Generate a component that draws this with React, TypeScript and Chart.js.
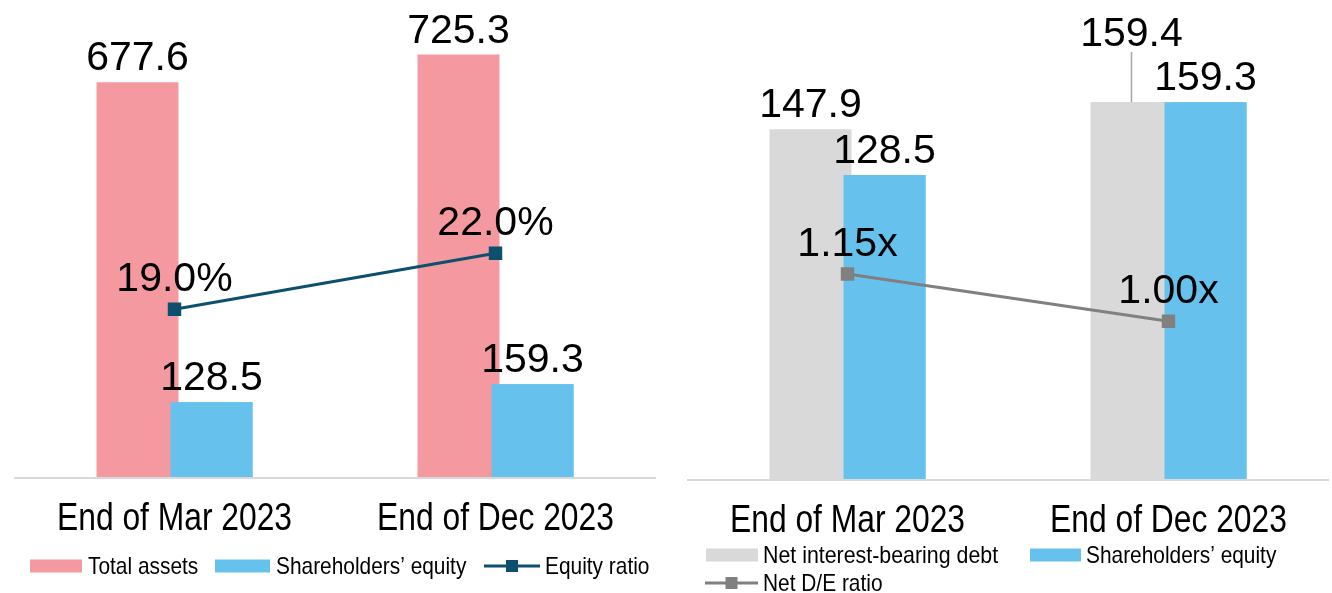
import React, { useEffect, useRef } from "react";
import { Chart, registerables } from "chart.js";
Chart.register(...registerables);

const categories = ["End of Mar 2023", "End of Dec 2023"];
const totalAssets = [677.6, 725.3];
const equityLeft = [128.5, 159.3];
const equityRatio = [19.0, 22.0];
const netDebt = [147.9, 159.4];
const equityRight = [128.5, 159.3];
const netDE = [1.15, 1.0];
const leftSeries = ["Total assets", "Shareholders’ equity", "Equity ratio"];
const rightSeries = ["Net interest-bearing debt", "Shareholders’ equity", "Net D/E ratio"];

const PINK = "#F4999F";
const BLUE = "#66C1EC";
const GRAY = "#D9D9D9";
const NAVY = "#0C4F6E";
const LGRAY = "#808080";
const SANS = '"Liberation Sans", Arial, sans-serif';

function narrowText(ctx: any, txt: string, x: number, y: number, sx: number) {
  ctx.save();
  ctx.translate(x, y);
  ctx.scale(sx, 1);
  ctx.fillText(txt, 0, 0);
  ctx.restore();
}

const panelPlugin = {
  id: "panel",
  afterDatasetDraw(chart: any, args: any) {
    if (args.index === 0) {
      const meta = chart.getDatasetMeta(1);
      meta.data.forEach((el: any) => el.draw(chart.ctx));
    }
  },
  afterDraw(chart: any, _args: any, opts: any) {
    const ctx = chart.ctx;
    const ca = chart.chartArea;
    const xs = chart.scales.x;
    ctx.save();
    // axis line
    ctx.strokeStyle = GRAY;
    ctx.lineWidth = 2;
    ctx.beginPath();
    ctx.moveTo(ca.left, ca.bottom + 1);
    ctx.lineTo(ca.right, ca.bottom + 1);
    ctx.stroke();
    // category labels
    ctx.fillStyle = "#000";
    ctx.textAlign = "center";
    ctx.textBaseline = "alphabetic";
    ctx.font = `39px ${SANS}`;
    chart.data.labels.forEach((l: string, i: number) => {
      narrowText(ctx, l, xs.getPixelForValue(i), ca.bottom + 53, 0.815);
    });
    // data labels
    ctx.font = `41px ${SANS}`;
    [0, 1].forEach((di) => {
      const meta = chart.getDatasetMeta(di);
      const ds = chart.data.datasets[di];
      meta.data.forEach((el: any, i: number) => {
        const txt = ds.data[i].toFixed(1);
        let y = el.y - 12;
        if (opts.leader && opts.leader[0] === di && opts.leader[1] === i) {
          y = el.y - 56;
          ctx.strokeStyle = "#A6A6A6";
          ctx.lineWidth = 1.5;
          ctx.beginPath();
          ctx.moveTo(el.x, el.y);
          ctx.lineTo(el.x, y + 6);
          ctx.stroke();
        }
        ctx.fillText(txt, el.x, y);
      });
    });
    const lmeta = chart.getDatasetMeta(2);
    const lds = chart.data.datasets[2];
    lmeta.data.forEach((el: any, i: number) => {
      ctx.fillText(opts.lineFmt(lds.data[i]), el.x, el.y - 18);
    });
    // legend
    ctx.font = `24px ${SANS}`;
    ctx.textAlign = "left";
    ctx.textBaseline = "middle";
    opts.legend.forEach((it: any) => {
      if (it.type === "box") {
        ctx.fillStyle = it.color;
        ctx.fillRect(it.x, it.y - 6.5, it.w, 13);
      } else {
        ctx.strokeStyle = it.color;
        ctx.lineWidth = 3;
        ctx.beginPath();
        ctx.moveTo(it.x, it.y);
        ctx.lineTo(it.x + it.w, it.y);
        ctx.stroke();
        ctx.fillStyle = it.color;
        ctx.fillRect(it.x + it.w / 2 - 6, it.y - 6, 12, 12);
      }
      ctx.fillStyle = "#000";
      narrowText(ctx, it.text, it.tx, it.y + 1, it.sx || 0.87);
    });
    ctx.restore();
  },
};

function makeConfig(
  bars1: number[], bars2: number[], line: number[],
  c1: string, c2: string, lc: string,
  yMax: number, y2Min: number, y2Max: number,
  padding: any, pluginOpts: any
): any {
  return {
    type: "bar",
    data: {
      labels: categories,
      datasets: [
        { type: "bar", data: bars1, backgroundColor: c1, categoryPercentage: 0.461, barPercentage: 1.108, yAxisID: "y" },
        { type: "bar", data: bars2, backgroundColor: c2, categoryPercentage: 0.461, barPercentage: 1.108, yAxisID: "y" },
        {
          type: "line", data: line, borderColor: lc, borderWidth: 3, yAxisID: "y2", order: -1,
          pointStyle: "rect", pointRadius: 9.5, pointBackgroundColor: lc, pointBorderColor: lc, pointBorderWidth: 0,
        },
      ],
    },
    options: {
      responsive: false,
      animation: false,
      layout: { padding, autoPadding: false },
      plugins: { legend: { display: false }, tooltip: { enabled: false }, panel: pluginOpts },
      scales: {
        x: { display: false },
        y: { display: false, min: 0, max: yMax },
        y2: { display: false, min: y2Min, max: y2Max },
      },
    },
    plugins: [panelPlugin],
  };
}

function Panel(props: { config: any; left: number; width: number }) {
  const ref = useRef<HTMLCanvasElement>(null);
  useEffect(() => {
    const c = new Chart(ref.current as HTMLCanvasElement, props.config);
    return () => c.destroy();
  }, []);
  return (
    <canvas
      ref={ref}
      width={props.width}
      height={593}
      style={{ position: "absolute", left: props.left, top: 0, width: props.width, height: 593 }}
    />
  );
}

export default function App() {
  const leftCfg = makeConfig(
    totalAssets, equityLeft, equityRatio, PINK, BLUE, NAVY, 800, 10, 35,
    { left: 14, right: 14, top: 11, bottom: 116 },
    {
      lineFmt: (v: number) => v.toFixed(1) + "%",
      legend: [
        { type: "box", color: PINK, x: 30, y: 566, w: 52, text: leftSeries[0], tx: 88 },
        { type: "box", color: BLUE, x: 215, y: 566, w: 55, text: leftSeries[1], tx: 276 },
        { type: "line", color: NAVY, x: 484, y: 566, w: 56, text: leftSeries[2], tx: 545 },
      ],
    }
  );
  const rightCfg = makeConfig(
    netDebt, equityRight, netDE, GRAY, BLUE, LGRAY, 200, 0.5, 2.0,
    { left: 17, right: 3, top: 6, bottom: 114 },
    {
      lineFmt: (v: number) => v.toFixed(2) + "x",
      leader: [0, 1],
      legend: [
        { type: "box", color: GRAY, x: 36, y: 555, w: 52, text: rightSeries[0], tx: 93, sx: 0.89 },
        { type: "box", color: BLUE, x: 360, y: 555, w: 51, text: rightSeries[1], tx: 416 },
        { type: "line", color: LGRAY, x: 35, y: 583, w: 53, text: rightSeries[2], tx: 93 },
      ],
    }
  );
  return (
    <div style={{ position: "fixed", left: 0, top: 0, width: 1332, height: 593, background: "#fff" }}>
      <Panel config={leftCfg} left={0} width={670} />
      <Panel config={rightCfg} left={670} width={662} />
    </div>
  );
}
